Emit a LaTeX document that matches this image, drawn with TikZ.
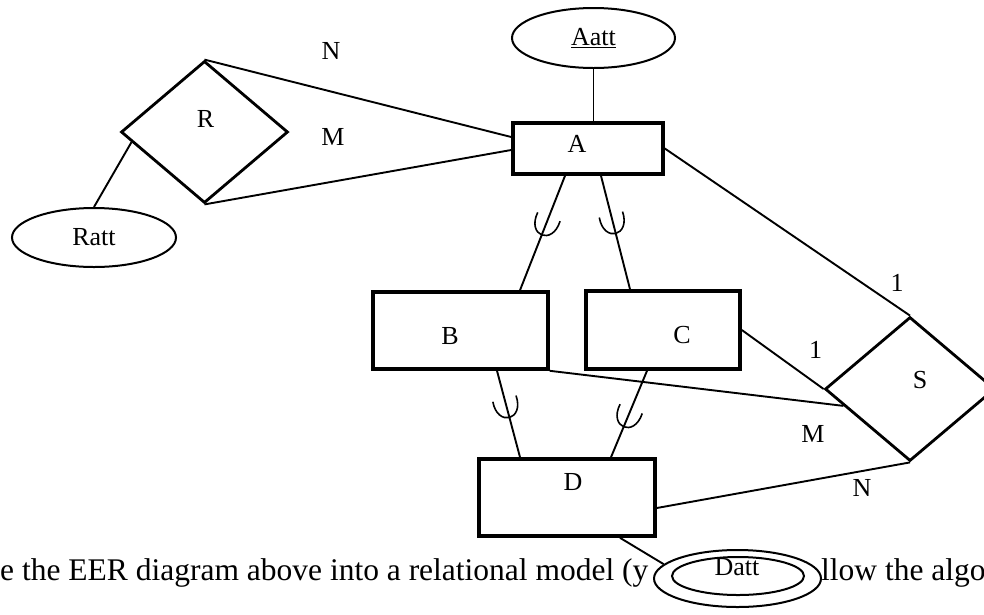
\documentclass[tikz,border=0pt]{standalone}
\usepackage{fontspec}
\setmainfont{Liberation Serif}
\usetikzlibrary{shapes.geometric,calc}
\begin{document}
\begin{tikzpicture}[x=1pt,y=-1pt,
  every node/.style={font=\fontsize{26}{30}\selectfont},
  entity/.style={draw,rectangle,line width=3.6pt,inner sep=0pt},
  relation/.style={draw,diamond,line width=2.8pt,inner sep=0pt},
  attrib/.style={draw,ellipse,line width=2pt,inner sep=0pt,fill=white},
  link/.style={line width=1.9pt},
  card/.style={inner sep=0pt},
  subset/.pic={\draw[line width=1.6pt](-15,-12)..controls(11,-14)and(11,14)..(-15,12);}]
\useasboundingbox(0,0)rectangle(984,614);
\node[attrib,minimum width=163pt,minimum height=60pt](Aatt)at(593.5,38){\underline{Aatt}};
\node[entity,minimum width=150pt,minimum height=51pt,label={[xshift=-11pt,yshift=5pt]center:A}](A)at(588,148.5){};
\node[relation,minimum width=167pt,minimum height=142pt,label={[xshift=1pt,yshift=13pt]center:R}](R)at(204.5,132){};
\node[attrib,minimum width=164pt,minimum height=59pt](Ratt)at(94,237.5){Ratt};
\node[entity,minimum width=175pt,minimum height=77pt,label={[xshift=-10.5pt,yshift=-5.5pt]center:B}](B)at(460.5,330.5){};
\node[entity,minimum width=154pt,minimum height=78pt,label={[xshift=19pt,yshift=-5pt]center:C}](C)at(663,330){};
\node[entity,minimum width=176pt,minimum height=77pt,label={[xshift=6pt,yshift=15.5pt]center:D}](D)at(567,497.5){};
\node[relation,minimum width=170pt,minimum height=144pt,label={[xshift=10pt,yshift=9pt]center:S}](S)at(910,389){};
\node[card](nR)at(331,51){N};
\node[card](mR)at(333,137){M};
\node[card](oneA)at(897,283){1};
\node[card](oneC)at(815.5,350){1};
\node[card](mS)at(813,434){M};
\node[card](nS)at(862,488){N};
\node[anchor=base west,inner sep=0pt,font=\fontsize{31.5}{36}\selectfont](qleft)at(0,580){e the EER diagram above into a relational model (y};
\node[anchor=base west,inner sep=0pt,font=\fontsize{31.5}{36}\selectfont](qright)at(821,580){llow the algo};
\node[attrib,minimum width=167pt,minimum height=57pt](Datt)at(737.5,578.5){};
\node[attrib,minimum width=132pt,minimum height=38pt](Dattin)at(738,576){};
\node[anchor=base,inner sep=0pt](Dattlbl)at(737,575){Datt};
\draw[link](R.north)--([yshift=11.5pt]A.west);
\draw[link](R.south)--([yshift=-1.5pt]A.west);
\draw[link]($(R.west)!0.14!(R.south)$)--(Ratt.north);
\draw[link](Aatt.south)--(Aatt.south|-A.north);
\draw[link]([xshift=-23pt]A.south)--([xshift=59.5pt]B.north)pic[pos=.48,sloped,allow upside down]{subset};
\draw[link]([xshift=13pt]A.south)--([xshift=-33pt]C.north)pic[pos=.47,sloped,allow upside down]{subset};
\draw[link](A.east)--(S.north);
\draw[link]([xshift=36.5pt]B.south)--([xshift=-47pt]D.north)pic[pos=.49,sloped,allow upside down]{subset};
\draw[link]([xshift=-16pt]C.south)--([xshift=44pt]D.north)pic[pos=.6,sloped,allow upside down]{subset};
\draw[link](B.south east)--($(S.west)!0.23!(S.south)$);
\draw[link](C.east)--(S.west);
\draw[link]([yshift=-10.5pt]D.east)--(S.south);
\draw[link]([xshift=53pt]D.south)--(Datt.169);
\end{tikzpicture}
\end{document}
